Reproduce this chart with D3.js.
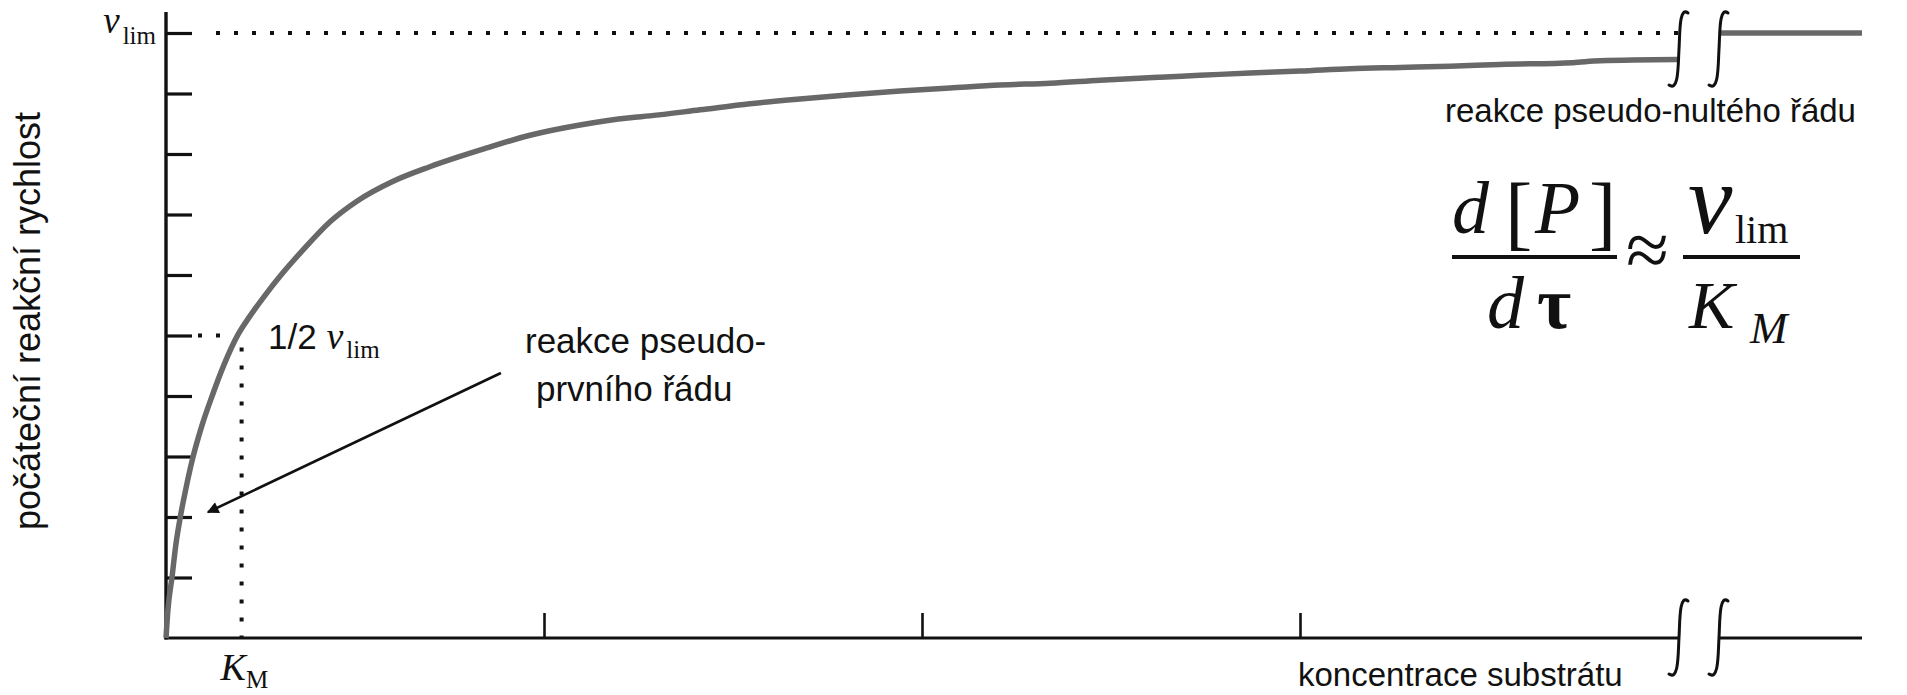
<!DOCTYPE html>
<html><head><meta charset="utf-8">
<script src="https://cdn.jsdelivr.net/npm/d3@7"></script>
<style>body{margin:0;background:#fff}svg{display:block}</style>
</head><body>
<svg id="c" width="1907" height="695"></svg>
<script>
// ---- data ----
const substrate = [0, 0.005, 0.016, 0.026, 0.037, 0.053, 0.071, 0.094, 0.122, 0.153, 0.190, 0.222, 0.259, 0.307, 0.362, 0.434, 0.505, 0.601, 0.698, 0.849, 0.963, 1.095, 1.228, 1.280, 1.413, 1.545, 1.677, 1.810, 1.942, 2.074, 2.206, 2.339, 2.471, 2.630, 2.735, 2.868, 3.000, 3.132, 3.265, 3.397, 3.529, 3.722, 3.794, 4.0];
const rate =      [0, 0.46, 1.01, 1.54, 1.97, 2.48, 2.98, 3.49, 4.00, 4.51, 5.01, 5.32, 5.64, 6.02, 6.41, 6.88, 7.22, 7.55, 7.79, 8.10, 8.31, 8.48, 8.60, 8.63, 8.73, 8.83, 8.91, 8.98, 9.04, 9.09, 9.14, 9.17, 9.22, 9.27, 9.30, 9.34, 9.37, 9.41, 9.43, 9.45, 9.48, 9.51, 9.54, 9.56];
const plateauX = [0, 1];
const plateauY = [10, 10];
const xTickValues = [1, 2, 3];
const yTickValues = [1, 2, 3, 4, 5, 6, 7, 8, 9, 10];
const vLim = 10;
const halfV = 5;
const kM = 0.2;
const xBreak = 4;
const arrowFrom = [0.886, 4.38];
const arrowTo = [0.111, 2.08];

// ---- scales ----
const svg = d3.select('#c');
const x = d3.scaleLinear().domain([0, xBreak]).range([166, 1678]);
const xFar = d3.scaleLinear().domain([0, 1]).range([1719, 1862]);
const y = d3.scaleLinear().domain([0, vLim]).range([638, 33]);

const SANS = "'Liberation Sans', Arial, Helvetica, sans-serif";
const SERIF = "'Liberation Serif', 'Times New Roman', serif";
const INK = '#111';
const CURVE = '#686868';

svg.append('rect').attr('width', 1907).attr('height', 695).attr('fill', '#fff');

const defs = svg.append('defs');
defs.append('filter').attr('id', 'soft').attr('filterUnits', 'userSpaceOnUse')
  .attr('x', 0).attr('y', 0).attr('width', 1907).attr('height', 695)
  .append('feGaussianBlur').attr('stdDeviation', 0.7);
defs.append('marker').attr('id', 'arr').attr('viewBox', '0 0 10 10')
  .attr('refX', 9).attr('refY', 5).attr('markerWidth', 6).attr('markerHeight', 4.5)
  .attr('markerUnits', 'strokeWidth').attr('orient', 'auto')
  .append('path').attr('d', 'M0,0 L10,5 L0,10 z').attr('fill', INK);

// ---- dotted guide lines ----
const dot = g => g.attr('stroke', INK).attr('stroke-width', 4).attr('stroke-dasharray', '4,14').attr('fill', 'none');
svg.append('line').attr('x1', x(0) + 50).attr('x2', x(xBreak)).attr('y1', y(vLim)).attr('y2', y(vLim)).call(dot);
svg.append('line').attr('x1', x(0) + 32).attr('x2', x(kM) - 14).attr('y1', y(halfV)).attr('y2', y(halfV)).call(dot);
svg.append('line').attr('x1', x(kM)).attr('x2', x(kM)).attr('y1', y(halfV) + 12).attr('y2', y(0)).call(dot);

// ---- axes ----
const gy = svg.append('g').attr('transform', `translate(${x(0)},0)`)
  .call(d3.axisRight(y).tickValues(yTickValues).tickSize(26).tickSizeOuter(0).tickFormat(''));
gy.select('.domain').remove();
gy.selectAll('.tick line').attr('stroke', INK).attr('stroke-width', 3.2);

const gx = svg.append('g').attr('transform', `translate(0,${y(0)})`)
  .call(d3.axisTop(x).tickValues(xTickValues).tickSize(25).tickSizeOuter(0).tickFormat(''));
gx.select('.domain').remove();
gx.selectAll('.tick line').attr('stroke', INK).attr('stroke-width', 2.6);

svg.append('line').attr('x1', x(0)).attr('x2', x(0)).attr('y1', y(0) + 1.5).attr('y2', y(vLim) - 21)
  .attr('stroke', INK).attr('stroke-width', 3.4);
svg.append('line').attr('x1', x(0) - 1.5).attr('x2', x(xBreak)).attr('y1', y(0)).attr('y2', y(0))
  .attr('stroke', INK).attr('stroke-width', 3.2);
svg.append('line').attr('x1', xFar(0)).attr('x2', xFar(1)).attr('y1', y(0)).attr('y2', y(0))
  .attr('stroke', INK).attr('stroke-width', 3.2);

// ---- curve ----
const pts = substrate.map((s, i) => [s, rate[i]]);
const line = d3.line().x(d => x(d[0])).y(d => y(d[1])).curve(d3.curveMonotoneX);
svg.append('path').datum(pts).attr('d', line).attr('fill', 'none')
  .attr('stroke', CURVE).attr('stroke-width', 5.5).attr('filter', 'url(#soft)');
const farPts = plateauX.map((s, i) => [s, plateauY[i]]);
svg.append('path').datum(farPts)
  .attr('d', d3.line().x(d => xFar(d[0])).y(d => y(d[1])))
  .attr('fill', 'none').attr('stroke', CURVE).attr('stroke-width', 5.5).attr('filter', 'url(#soft)');

// ---- axis break marks ----
function breakMark(cx, top, bot) {
  const h = bot - top;
  return `M${cx + 10},${top + 3} C${cx + 1},${top - 4} ${cx + 2},${top + h * 0.3} ${cx + 1},${top + h * 0.5}`
       + ` C${cx},${top + h * 0.7} ${cx + 1},${bot + 4} ${cx - 9},${bot - 3}`;
}
[[x(xBreak), y(vLim) - 23, y(vLim) + 55], [xFar(0) - 1, y(vLim) - 23, y(vLim) + 55],
 [x(xBreak), y(0) - 40, y(0) + 39], [xFar(0) - 1, y(0) - 40, y(0) + 39]].forEach(b => {
  svg.append('path').attr('d', breakMark(b[0], b[1], b[2])).attr('fill', 'none')
    .attr('stroke', INK).attr('stroke-width', 3).attr('stroke-linecap', 'round');
});

// ---- arrow ----
svg.append('line').attr('x1', x(arrowFrom[0])).attr('y1', y(arrowFrom[1]))
  .attr('x2', x(arrowTo[0])).attr('y2', y(arrowTo[1]))
  .attr('stroke', INK).attr('stroke-width', 2.6).attr('marker-end', 'url(#arr)');

// ---- labels ----
const T = (xp, yp, size, fam) => svg.append('text').attr('x', xp).attr('y', yp)
  .attr('font-size', size).attr('font-family', fam).attr('fill', INK);

// v_lim on the y axis
const tv = T(156, y(vLim), 37, SERIF).attr('text-anchor', 'end');
tv.append('tspan').attr('font-style', 'italic').text('v');
tv.append('tspan').attr('font-size', 25).attr('dx', 3).attr('dy', 11).text('lim');

// 1/2 v_lim
const th = T(x(0) + 102, y(halfV) + 13, 35, SANS);
th.append('tspan').text('1/2 ');
th.append('tspan').attr('font-family', SERIF).attr('font-style', 'italic').attr('font-size', 38).text('v');
th.append('tspan').attr('font-family', SERIF).attr('font-size', 25).attr('dx', 3).attr('dy', 9).text('lim');

// K_M
const tk = T(x(kM) - 21, y(0) + 42, 38, SERIF);
tk.append('tspan').attr('font-style', 'italic').text('K');
tk.append('tspan').attr('font-size', 25).attr('dy', 8).text('M');

// axis titles
T(0, 0, 36, SANS).attr('text-anchor', 'middle').attr('transform', 'translate(40,321) rotate(-90)')
  .text('počáteční reakční rychlost');
T(1298, 686, 33, SANS).text('koncentrace substrátu');
T(1445, 122, 33, SANS).text('reakce pseudo-nultého řádu');
T(525, 353, 35, SANS).text('reakce pseudo-');
T(536, 401, 35, SANS).text('prvního řádu');

// ---- formula ----
T(1452, 233, 74, SERIF).attr('font-style', 'italic').text('d');
T(1505, 240, 82, SERIF).text('[');
T(1535, 233, 74, SERIF).attr('font-style', 'italic').text('P');
T(1589, 240, 82, SERIF).text(']');
svg.append('line').attr('x1', 1452).attr('x2', 1617).attr('y1', 257).attr('y2', 257).attr('stroke', INK).attr('stroke-width', 4);
T(1487, 328, 74, SERIF).attr('font-style', 'italic').text('d');
T(1537, 328, 74, SERIF).attr('font-weight', 'bold').text('τ');
T(1626, 276, 78, SERIF).text('≈');
svg.append('line').attr('x1', 1683).attr('x2', 1800).attr('y1', 257).attr('y2', 257).attr('stroke', INK).attr('stroke-width', 4);
T(1688, 233, 100, SERIF).attr('font-style', 'italic').text('v');
T(1735, 243, 40, SERIF).text('lim');
T(1689, 328, 68, SERIF).attr('font-style', 'italic').text('K');
T(1750, 343, 45, SERIF).attr('font-style', 'italic').text('M');
</script>
</body></html>
